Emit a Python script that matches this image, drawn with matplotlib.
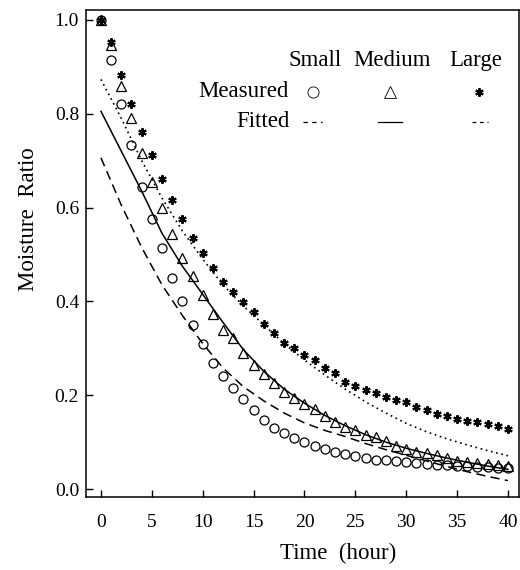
import matplotlib
matplotlib.use('Agg')
import matplotlib.pyplot as plt
from matplotlib.lines import Line2D

# ─── Data ──────────────────────────────────────────────────────────
hours = list(range(0, 41))
small_meas = [1.0, 0.915, 0.82, 0.733, 0.644, 0.576, 0.513, 0.449, 0.401, 0.35,
              0.309, 0.269, 0.242, 0.216, 0.193, 0.169, 0.147, 0.130, 0.120, 0.109,
              0.100, 0.091, 0.085, 0.079, 0.074, 0.070, 0.066, 0.063, 0.061, 0.059,
              0.057, 0.055, 0.054, 0.052, 0.051, 0.050, 0.049, 0.047, 0.046, 0.045,
              0.044]
medium_meas = [1.0, 0.947, 0.859, 0.79, 0.716, 0.654, 0.599, 0.544, 0.493, 0.455,
               0.413, 0.374, 0.338, 0.321, 0.290, 0.265, 0.246, 0.227, 0.207, 0.194,
               0.181, 0.170, 0.155, 0.143, 0.132, 0.125, 0.116, 0.110, 0.102, 0.091,
               0.085, 0.079, 0.076, 0.072, 0.066, 0.060, 0.057, 0.055, 0.053, 0.051,
               0.049]
large_meas = [1.0, 0.953, 0.882, 0.82, 0.762, 0.711, 0.661, 0.615, 0.576, 0.536,
              0.504, 0.472, 0.441, 0.420, 0.398, 0.377, 0.352, 0.333, 0.312, 0.301,
              0.285, 0.275, 0.258, 0.248, 0.229, 0.219, 0.212, 0.204, 0.197, 0.189,
              0.186, 0.174, 0.169, 0.161, 0.155, 0.150, 0.146, 0.142, 0.138, 0.134,
              0.129]

fit_hours = [0, 2, 4, 6, 8, 10, 12, 14, 16, 18, 20, 22, 24, 26, 28, 30, 32, 34, 36, 38, 40]
small_fit = [0.706, 0.605, 0.515, 0.435, 0.37, 0.31, 0.258, 0.218, 0.188, 0.162, 0.141,
             0.125, 0.112, 0.097, 0.084, 0.072, 0.060, 0.048, 0.037, 0.027, 0.018]
medium_fit = [0.805, 0.72, 0.635, 0.545, 0.475, 0.415, 0.355, 0.297, 0.251, 0.213, 0.183,
              0.157, 0.135, 0.116, 0.100, 0.087, 0.076, 0.066, 0.057, 0.049, 0.042]
large_fit = [0.873, 0.79, 0.70, 0.62, 0.55, 0.49, 0.435, 0.39, 0.35, 0.31, 0.275,
             0.243, 0.213, 0.186, 0.162, 0.14, 0.122, 0.107, 0.094, 0.082, 0.071]

x_ticks = [0, 5, 10, 15, 20, 25, 30, 35, 40]
y_ticks = [0.0, 0.2, 0.4, 0.6, 0.8, 1.0]
col_labels = ['Small', 'Medium', 'Large']

plt.rcParams.update({
    'font.family': ['Liberation Serif', 'DejaVu Serif'],
    'font.size': 14,
})

fig = plt.figure(figsize=(5.2, 5.7), dpi=100)
ax = fig.add_axes([0.1654, 0.128, 0.8326, 0.8545])

asterisk = (6, 2, 0)
mk_circle = dict(marker='o', ms=6.5, mfc='none', mec='black', mew=0.9, ls='none')
mk_tri = dict(marker='^', ms=7, mfc='none', mec='black', mew=0.9, ls='none')
mk_star = dict(marker=asterisk, ms=6, mec='black', mew=1.5, ls='none')

ax.plot(fit_hours, small_fit, color='black', lw=1.1, ls=(0, (6, 3.5)))
ax.plot(fit_hours, medium_fit, color='black', lw=1.1, ls='-')
ax.plot(fit_hours, large_fit, color='black', lw=1.2, ls=(0, (1, 2.2)))

ax.plot(hours, small_meas, **mk_circle)
ax.plot(hours, medium_meas, **mk_tri)
ax.plot(hours, large_meas, **mk_star)

ax.set_xlim(-1.47, 41.08)
ax.set_ylim(-0.017, 1.021)
ax.set_xticks(x_ticks)
ax.set_yticks(y_ticks)
ax.set_yticklabels([f'{v:.1f}' for v in y_ticks])
ax.tick_params(direction='in', length=5, width=1, labelsize=14)
ax.tick_params(axis='x', pad=12)
ax.tick_params(axis='y', pad=5)
for s in ax.spines.values():
    s.set_linewidth(1.1)

ax.set_xlabel('Time  (hour)', fontsize=16.5)
ax.xaxis.set_label_coords(0.582, -0.095)
ax.set_ylabel('Moisture  Ratio', fontsize=16.5)
ax.yaxis.set_label_coords(-0.108, 0.57)

# ─── legend table ─────────────────────────────────────────────
tr = ax.transAxes
col_x = [0.529, 0.707, 0.901]
for cx, lab in zip(col_x, col_labels):
    ax.text(cx, 0.897, lab, transform=tr, ha='center', va='center', fontsize=16.5)
ax.text(0.467, 0.832, 'Measured', transform=tr, ha='right', va='center', fontsize=16.5)
ax.text(0.471, 0.770, 'Fitted', transform=tr, ha='right', va='center', fontsize=16.5)

key_x = [0.524, 0.702, 0.908]
for kx, st in zip(key_x, [dict(mk_circle, ms=8, mew=0.6), dict(mk_tri, ms=8, mew=0.6), mk_star]):
    ax.add_line(Line2D([kx], [0.832], transform=tr, **st))
ax.add_line(Line2D([0.501, 0.545], [0.770, 0.770], transform=tr, color='black',
                   lw=0.9, ls=(0, (3.5, 3.5))))
ax.add_line(Line2D([0.674, 0.730], [0.770, 0.770], transform=tr, color='black', lw=0.9))
ax.add_line(Line2D([0.891, 0.928], [0.770, 0.770], transform=tr, color='black',
                   lw=0.9, ls=(0, (3, 3))))

plt.savefig('out.png', dpi=100, facecolor='white')
